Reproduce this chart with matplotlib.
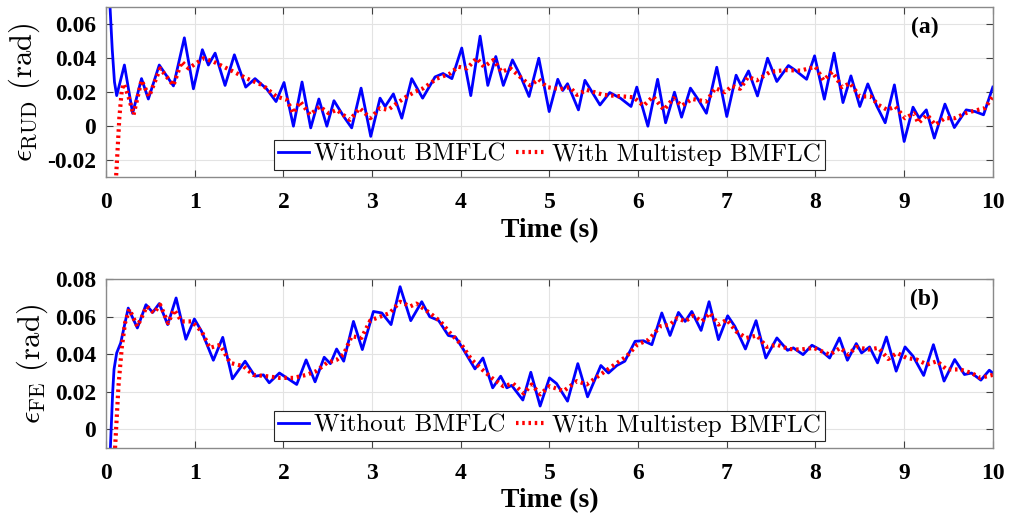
import matplotlib
matplotlib.use("Agg")
import matplotlib.pyplot as plt

# ---- panel (a): RUD error ----
t_rud_wo = [0.035, 0.045, 0.07, 0.095, 0.12, 0.207, 0.30, 0.40, 0.477, 0.60, 0.76, 0.883, 0.985,
            1.086, 1.154, 1.23, 1.342, 1.447, 1.575, 1.68, 1.81, 1.917, 2.007, 2.113, 2.21, 2.308,
            2.40, 2.49, 2.57, 2.68, 2.77, 2.876, 2.985, 3.09, 3.147, 3.24, 3.335, 3.447, 3.57, 3.71,
            3.80, 3.90, 4.011, 4.113, 4.218, 4.305, 4.395, 4.48, 4.583, 4.67, 4.77, 4.88, 4.997,
            5.094, 5.15, 5.204, 5.327, 5.40, 5.57, 5.68, 5.80, 5.92, 5.985, 6.11, 6.22, 6.31, 6.41,
            6.49, 6.59, 6.68, 6.77, 6.887, 7.0, 7.105, 7.16, 7.245, 7.346, 7.46, 7.564, 7.695, 7.77,
            7.90, 7.99, 8.10, 8.21, 8.31, 8.40, 8.50, 8.59, 8.69, 8.786, 8.89, 9.0, 9.10, 9.17, 9.25,
            9.34, 9.46, 9.566, 9.70, 9.80, 9.895, 10.0]
e_rud_wo = [0.085, 0.070, 0.045, 0.026, 0.018, 0.036, 0.0076, 0.028, 0.016, 0.036, 0.0237, 0.052, 0.022,
            0.045, 0.036, 0.043, 0.024, 0.042, 0.023, 0.028, 0.022, 0.0145, 0.0257, 0.0, 0.026, -0.001,
            0.016, 0.0, 0.015, 0.0057, -0.001, 0.0224, -0.006, 0.0165, 0.0116, 0.019, 0.0047, 0.028, 0.0165, 0.029,
            0.031, 0.028, 0.046, 0.018, 0.053, 0.024, 0.041, 0.024, 0.039, 0.030, 0.0175, 0.040, 0.0086,
            0.0276, 0.021, 0.025, 0.0096, 0.027, 0.0125, 0.0198, 0.0165, 0.0116, 0.023, 0.0, 0.0276, 0.002, 0.020,
            0.0053, 0.0224, 0.0155, 0.0076, 0.0347, 0.0057, 0.030, 0.024, 0.0325, 0.0178, 0.040, 0.0263, 0.0357, 0.033,
            0.0276, 0.0414, 0.0159, 0.043, 0.0139, 0.0296, 0.0116, 0.0249, 0.012, 0.002, 0.0243, -0.009, 0.0112, 0.0047, 0.0096,
            -0.007, 0.013, -0.0008, 0.0096, 0.0086, 0.0067, 0.023]

t_rud_ms = [0.10, 0.113, 0.15, 0.177, 0.20, 0.25, 0.31, 0.40, 0.485, 0.61, 0.76, 0.853, 0.93, 1.10, 1.21,
            1.44, 1.59, 1.77, 1.92, 2.04, 2.11, 2.19, 2.30, 2.41, 2.51, 2.60, 2.75, 2.86, 2.98, 3.09,
            3.18, 3.28, 3.39, 3.49, 3.58, 3.73, 3.88, 3.97, 4.07, 4.18, 4.26, 4.37, 4.46, 4.56, 4.67,
            4.78, 4.88, 4.97, 5.12, 5.23, 5.31, 5.42, 5.61, 5.83, 5.95, 6.06, 6.17, 6.29, 6.40, 6.49,
            6.61, 6.77, 6.87, 6.98, 7.06, 7.15, 7.24, 7.34, 7.49, 7.66, 7.83, 8.0, 8.09, 8.19, 8.30,
            8.39, 8.50, 8.62, 8.71, 8.81, 8.90, 9.01, 9.11, 9.16, 9.26, 9.35, 9.46, 9.57, 9.69, 9.80,
            9.91, 10.0]
e_rud_ms = [-0.04, -0.03, 0.005, 0.021, 0.025, 0.018, 0.0067, 0.027, 0.0175, 0.034, 0.024, 0.038, 0.034, 0.040, 0.038,
            0.032, 0.028, 0.024, 0.0175, 0.0155, 0.0076, 0.0145, 0.0067, 0.0116, 0.0076, 0.0096, 0.0037, 0.0106, 0.0047, 0.0106,
            0.0096, 0.0135, 0.0175, 0.0204, 0.0224, 0.028, 0.031, 0.035, 0.034, 0.040, 0.035, 0.039, 0.032, 0.034, 0.029,
            0.024, 0.0276, 0.023, 0.0218, 0.023, 0.0184, 0.0214, 0.0184, 0.0175, 0.017, 0.012, 0.0175, 0.0096, 0.0165, 0.012,
            0.016, 0.0145, 0.0224, 0.020, 0.0237, 0.022, 0.029, 0.027, 0.032, 0.033, 0.0327, 0.035, 0.027, 0.032, 0.023,
            0.0253, 0.0175, 0.0175, 0.0125, 0.0096, 0.0116, 0.0047, 0.0076, 0.0018, 0.0067, 0.0008, 0.0047, 0.0047, 0.0076, 0.0092,
            0.0106, 0.0175]

# ---- panel (b): FE error ----
t_fe_wo = [0.04, 0.075, 0.09, 0.12, 0.165, 0.25, 0.353, 0.45, 0.526, 0.60, 0.695, 0.79, 0.90, 0.996,
           1.08, 1.21, 1.316, 1.425, 1.568, 1.68, 1.775, 1.84, 1.955, 2.15, 2.256, 2.357, 2.46, 2.53,
           2.60, 2.68, 2.79, 2.89, 3.015, 3.11, 3.214, 3.316, 3.436, 3.56, 3.65, 3.75, 3.86, 3.94,
           4.03, 4.16, 4.25, 4.36, 4.45, 4.52, 4.574, 4.70, 4.79, 4.895, 5.0, 5.08, 5.204, 5.32, 5.43,
           5.58, 5.665, 5.76, 5.85, 5.966, 6.06, 6.155, 6.267, 6.36, 6.455, 6.53, 6.605, 6.71, 6.80,
           6.906, 7.01, 7.09, 7.21, 7.33, 7.44, 7.565, 7.685, 7.75, 7.86, 7.96, 8.05, 8.16, 8.27,
           8.36, 8.46, 8.52, 8.61, 8.70, 8.80, 8.91, 9.01, 9.10, 9.22, 9.33, 9.45, 9.57, 9.68, 9.76,
           9.865, 9.96, 10.0]
e_fe_wo = [-0.02, 0.02, 0.032, 0.0407, 0.046, 0.0646, 0.054, 0.0664, 0.0623, 0.067, 0.0558, 0.070, 0.048, 0.0588,
           0.052, 0.0368, 0.049, 0.0269, 0.0363, 0.0283, 0.029, 0.0248, 0.030, 0.0239, 0.037, 0.0253, 0.0384, 0.035,
           0.0428, 0.0363, 0.0575, 0.0425, 0.0628, 0.062, 0.0558, 0.076, 0.0579, 0.068, 0.060, 0.058, 0.050, 0.0492,
           0.0425, 0.0322, 0.038, 0.0221, 0.0283, 0.0221, 0.0234, 0.0156, 0.0304, 0.0124, 0.0274, 0.0244, 0.015, 0.035, 0.0173,
           0.034, 0.030, 0.034, 0.0363, 0.0469, 0.0472, 0.0451, 0.062, 0.050, 0.0623, 0.0575, 0.0628, 0.0527, 0.068,
           0.0478, 0.0605, 0.0549, 0.0428, 0.0579, 0.038, 0.0487, 0.0421, 0.0434, 0.0398, 0.0448, 0.0425, 0.038, 0.0487,
           0.0368, 0.0457, 0.0407, 0.0439, 0.0354, 0.0492, 0.031, 0.0439, 0.039, 0.0287, 0.0451, 0.0257, 0.0372, 0.0292, 0.030,
           0.0262, 0.0315, 0.030]

t_fe_ms = [0.09, 0.14, 0.177, 0.214, 0.263, 0.353, 0.46, 0.54, 0.61, 0.70, 0.767, 0.853, 0.966, 1.08,
           1.17, 1.286, 1.40, 1.55, 1.66, 1.81, 1.96, 2.11, 2.26, 2.37, 2.49, 2.60, 2.68, 2.77, 2.88,
           2.98, 3.09, 3.20, 3.316, 3.43, 3.50, 3.65, 3.77, 3.88, 4.01, 4.12, 4.24, 4.35, 4.48, 4.59,
           4.71, 4.80, 4.895, 5.0, 5.16, 5.31, 5.42, 5.57, 5.72, 5.87, 5.99, 6.12, 6.25, 6.36, 6.44,
           6.53, 6.62, 6.72, 6.81, 6.906, 7.0, 7.11, 7.22, 7.34, 7.45, 7.565, 7.70, 7.83, 7.98, 8.16,
           8.28, 8.37, 8.46, 8.60, 8.71, 8.82, 8.92, 9.03, 9.14, 9.26, 9.37, 9.48, 9.63, 9.76, 9.86, 10.0]
e_fe_ms = [-0.02, 0.023, 0.0434, 0.0566, 0.064, 0.0549, 0.0655, 0.062, 0.0664, 0.0566, 0.0637, 0.0575, 0.0575, 0.052,
           0.0434, 0.045, 0.0354, 0.0336, 0.029, 0.0283, 0.0274, 0.0274, 0.029, 0.031, 0.0354, 0.037, 0.040, 0.0496, 0.0487,
           0.058, 0.060, 0.062, 0.068, 0.0655, 0.067, 0.062, 0.0575, 0.0513, 0.045, 0.0372, 0.0319, 0.0274, 0.023, 0.0244,
           0.0191, 0.0239, 0.0186, 0.023, 0.0204, 0.0257, 0.0239, 0.029, 0.034, 0.0389, 0.0451, 0.0478, 0.0549, 0.0558, 0.0593,
           0.0575, 0.0605, 0.0575, 0.062, 0.0558, 0.0584, 0.052, 0.0487, 0.050, 0.0439, 0.0451, 0.0428, 0.0425, 0.0434, 0.0398,
           0.0434, 0.0398, 0.0439, 0.0425, 0.0434, 0.0375, 0.0407, 0.038, 0.0372, 0.0345, 0.0363, 0.0319, 0.0319, 0.030, 0.0274, 0.029]

x_ticks = list(range(0, 11))
rud_ticks = [-0.02, 0, 0.02, 0.04, 0.06]
rud_labels = ['-0.02', '0', '0.02', '0.04', '0.06']
fe_ticks = [0, 0.02, 0.04, 0.06, 0.08]
fe_labels = ['0', '0.02', '0.04', '0.06', '0.08']

plt.rcParams['mathtext.fontset'] = 'cm'
serif_bold = dict(family='Liberation Serif', weight='bold')

fig = plt.figure(figsize=(10.1, 5.18), dpi=100)
ax1 = fig.add_axes([0.105, 0.658, 0.878, 0.328])
ax2 = fig.add_axes([0.105, 0.135, 0.878, 0.326])

panels = [
    (ax1, t_rud_wo, e_rud_wo, t_rud_ms, e_rud_ms, (-0.03, 0.07), rud_ticks, rud_labels,
     r'$\epsilon_{\mathrm{RUD}}$ (rad)', '(a)'),
    (ax2, t_fe_wo, e_fe_wo, t_fe_ms, e_fe_ms, (-0.01, 0.08), fe_ticks, fe_labels,
     r'$\epsilon_{\mathrm{FE}}$ (rad)', '(b)'),
]

for ax, tw, ew, tm, em, ylim, yt, yl, ylab, tag in panels:
    ax.plot(tw, ew, color='#0000ff', lw=2.0, solid_joinstyle='round', label='Without BMFLC')
    ax.plot(tm, em, color='#ff0000', lw=3.0, ls=(0, (0.6, 0.9)), label='With Multistep BMFLC')
    ax.set_xlim(0, 10)
    ax.set_ylim(*ylim)
    ax.set_xticks(x_ticks)
    ax.set_xticklabels([str(v) for v in x_ticks], fontdict=dict(size=17, **serif_bold))
    ax.set_yticks(yt)
    ax.set_yticklabels(yl, fontdict=dict(size=17, **serif_bold))
    ax.tick_params(axis='both', direction='in', top=True, right=True, length=5, width=0.8,
                   color='#404040')
    ax.tick_params(axis='x', pad=11)
    ax.tick_params(axis='y', pad=7)
    ax.grid(True, color='#e3e3e3', lw=0.8)
    for sp in ax.spines.values():
        sp.set_color('#8a8a8a')
        sp.set_linewidth(1.0)
    ax.set_xlabel('Time (s)', fontsize=20, labelpad=3, **serif_bold)
    ax.set_ylabel(ylab, family='cmr10', fontsize=22, labelpad=4)
    ax.text(0.923, 0.88, tag, transform=ax.transAxes, ha='center', va='center',
            fontsize=17, **serif_bold)
    leg = ax.legend(loc='lower center', ncol=2, frameon=True, fancybox=False,
                    prop=dict(family='cmr10', size=18), handlelength=1.25,
                    handletextpad=0.2, columnspacing=0.4, borderpad=0.15,
                    borderaxespad=0.3)
    leg.get_frame().set_edgecolor('#262626')
    leg.get_frame().set_linewidth(0.8)
    leg.get_frame().set_alpha(1)

fig.savefig('out.png', dpi=100)
